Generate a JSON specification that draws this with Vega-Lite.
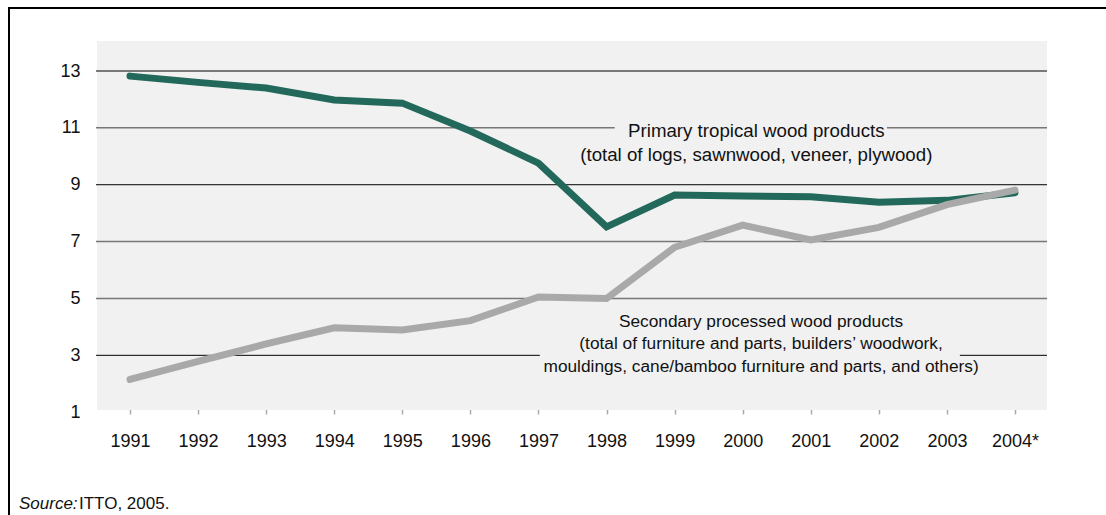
{
  "$schema": "https://vega.github.io/schema/vega-lite/v6.json",
  "width": 1102,
  "height": 512,
  "autosize": {"type": "none"},
  "padding": {"left": 9, "top": 8, "right": -5, "bottom": -5},
  "background": "white",
  "config": {
    "view": {"stroke": "black", "strokeWidth": 2, "fill": null},
    "font": "Liberation Sans",
    "text": {"font": "Liberation Sans"},
    "axis": {"grid": false, "domain": false, "titlePadding": 0}
  },
  "layer": [
    {
      "data": {"values": [{}]},
      "mark": {"type": "rect", "fill": "#f1f1f1"},
      "encoding": {
        "x": {"datum": 1990.515, "type": "quantitative", "title": null, "scale": {"domain": [1989.2226, 2005.4102], "nice": false, "zero": false}},
        "x2": {"datum": 2004.47},
        "y": {"datum": 1.08, "type": "quantitative", "title": null, "scale": {"domain": [-2.792, 15.216], "nice": false, "zero": false}},
        "y2": {"datum": 14.055}
      }
    },
    {
      "data": {"values": [{"v": 13}, {"v": 9}]},
      "mark": {"type": "rule", "color": "#000000", "strokeWidth": 1},
      "encoding": {
        "y": {"field": "v", "type": "quantitative", "title": null},
        "x": {"datum": 1990.5, "type": "quantitative", "title": null},
        "x2": {"datum": 2004.47}
      }
    },
    {
      "data": {"values": [{"v": 7}, {"v": 5}]},
      "mark": {"type": "rule", "color": "#777777", "strokeWidth": 1.5},
      "encoding": {
        "y": {"field": "v", "type": "quantitative", "title": null},
        "x": {"datum": 1990.5, "type": "quantitative", "title": null},
        "x2": {"datum": 2004.47}
      }
    },
    {
      "data": {"values": [{}]},
      "mark": {"type": "rule", "color": "#777777", "strokeWidth": 1.5},
      "encoding": {
        "y": {"datum": 11, "type": "quantitative", "title": null},
        "x": {"datum": 1990.5, "type": "quantitative", "title": null},
        "x2": {"datum": 1998.12}
      }
    },
    {
      "data": {"values": [{}]},
      "mark": {"type": "rule", "color": "#777777", "strokeWidth": 1.5},
      "encoding": {
        "y": {"datum": 11, "type": "quantitative", "title": null},
        "x": {"datum": 2002.12, "type": "quantitative", "title": null},
        "x2": {"datum": 2004.47}
      }
    },
    {
      "data": {"values": [{}]},
      "mark": {"type": "rule", "color": "#000000", "strokeWidth": 1},
      "encoding": {
        "y": {"datum": 3, "type": "quantitative", "title": null},
        "x": {"datum": 1990.5, "type": "quantitative", "title": null},
        "x2": {"datum": 1997.02}
      }
    },
    {
      "data": {"values": [{}]},
      "mark": {"type": "rule", "color": "#000000", "strokeWidth": 1},
      "encoding": {
        "y": {"datum": 3, "type": "quantitative", "title": null},
        "x": {"datum": 2003.19, "type": "quantitative", "title": null},
        "x2": {"datum": 2004.47}
      }
    },
    {
      "data": {
        "values": [
          {"year": 1991, "value": 12.82, "series": "Primary"},
          {"year": 1992, "value": 12.6, "series": "Primary"},
          {"year": 1993, "value": 12.4, "series": "Primary"},
          {"year": 1994, "value": 11.98, "series": "Primary"},
          {"year": 1995, "value": 11.87, "series": "Primary"},
          {"year": 1996, "value": 10.89, "series": "Primary"},
          {"year": 1997, "value": 9.76, "series": "Primary"},
          {"year": 1998, "value": 7.52, "series": "Primary"},
          {"year": 1999, "value": 8.64, "series": "Primary"},
          {"year": 2000, "value": 8.6, "series": "Primary"},
          {"year": 2001, "value": 8.58, "series": "Primary"},
          {"year": 2002, "value": 8.38, "series": "Primary"},
          {"year": 2003, "value": 8.45, "series": "Primary"},
          {"year": 2004, "value": 8.72, "series": "Primary"},
          {"year": 1991, "value": 2.15, "series": "Secondary"},
          {"year": 1992, "value": 2.79, "series": "Secondary"},
          {"year": 1993, "value": 3.4, "series": "Secondary"},
          {"year": 1994, "value": 3.97, "series": "Secondary"},
          {"year": 1995, "value": 3.89, "series": "Secondary"},
          {"year": 1996, "value": 4.22, "series": "Secondary"},
          {"year": 1997, "value": 5.05, "series": "Secondary"},
          {"year": 1998, "value": 5.0, "series": "Secondary"},
          {"year": 1999, "value": 6.8, "series": "Secondary"},
          {"year": 2000, "value": 7.58, "series": "Secondary"},
          {"year": 2001, "value": 7.06, "series": "Secondary"},
          {"year": 2002, "value": 7.5, "series": "Secondary"},
          {"year": 2003, "value": 8.3, "series": "Secondary"},
          {"year": 2004, "value": 8.81, "series": "Secondary"}
        ]
      },
      "mark": {"type": "line", "strokeWidth": 7, "strokeCap": "round", "strokeJoin": "miter"},
      "encoding": {
        "x": {
          "field": "year",
          "type": "quantitative",
          "title": null,
          "axis": {
            "values": [1991, 1992, 1993, 1994, 1995, 1996, 1997, 1998, 1999, 2000, 2001, 2002, 2003, 2004],
            "labelExpr": "datum.value == 2004 ? '2004*' : format(datum.value, 'd')",
            "offset": -111,
            "domain": false,
            "grid": false,
            "ticks": true,
            "tickSize": 5,
            "tickColor": "#aaaaaa",
            "tickWidth": 1.5,
            "labelPadding": 18,
            "labelFontSize": 18,
            "labelColor": "#111111",
            "labelFont": "Liberation Sans",
            "labelFlush": false,
            "labelOverlap": false
          }
        },
        "y": {
          "field": "value",
          "type": "quantitative",
          "title": null,
          "axis": {
            "values": [1, 3, 5, 7, 9, 11, 13],
            "offset": -71,
            "domain": false,
            "grid": false,
            "ticks": false,
            "labelPadding": 0,
            "labelFontSize": 18,
            "labelColor": "#111111",
            "labelFont": "Liberation Sans",
            "labelFlush": false,
            "labelOverlap": false
          }
        },
        "color": {
          "field": "series",
          "type": "nominal",
          "scale": {"domain": ["Primary", "Secondary"], "range": ["#22695b", "#a9a9a9"]},
          "legend": null
        }
      }
    },
    {
      "data": {"values": [{"label": ["Primary tropical wood products", "(total of logs, sawnwood, veneer, plywood)"]}]},
      "mark": {"type": "text", "align": "center", "baseline": "middle", "fontSize": 18.7, "lineHeight": 24, "color": "#111111"},
      "encoding": {
        "text": {"field": "label"},
        "x": {"datum": 2000.2, "type": "quantitative", "title": null},
        "y": {"datum": 10.89, "type": "quantitative", "title": null}
      }
    },
    {
      "data": {"values": [{"label": ["Secondary processed wood products", "(total of furniture and parts, builders\u2019 woodwork,", "mouldings, cane/bamboo furniture and parts, and others)"]}]},
      "mark": {"type": "text", "align": "center", "baseline": "middle", "fontSize": 17.3, "lineHeight": 22.5, "color": "#111111"},
      "encoding": {
        "text": {"field": "label"},
        "x": {"datum": 2000.27, "type": "quantitative", "title": null},
        "y": {"datum": 4.18, "type": "quantitative", "title": null}
      }
    },
    {
      "data": {"values": [{"label": "Source:"}]},
      "mark": {"type": "text", "align": "left", "baseline": "alphabetic", "fontSize": 17, "fontStyle": "italic", "color": "#111111"},
      "encoding": {
        "text": {"field": "label"},
        "x": {"datum": 1989.3695, "type": "quantitative", "title": null},
        "y": {"datum": -2.415, "type": "quantitative", "title": null}
      }
    },
    {
      "data": {"values": [{"label": "ITTO, 2005."}]},
      "mark": {"type": "text", "align": "left", "baseline": "alphabetic", "fontSize": 17, "color": "#111111"},
      "encoding": {
        "text": {"field": "label"},
        "x": {"datum": 1990.251, "type": "quantitative", "title": null},
        "y": {"datum": -2.415, "type": "quantitative", "title": null}
      }
    }
  ]
}
